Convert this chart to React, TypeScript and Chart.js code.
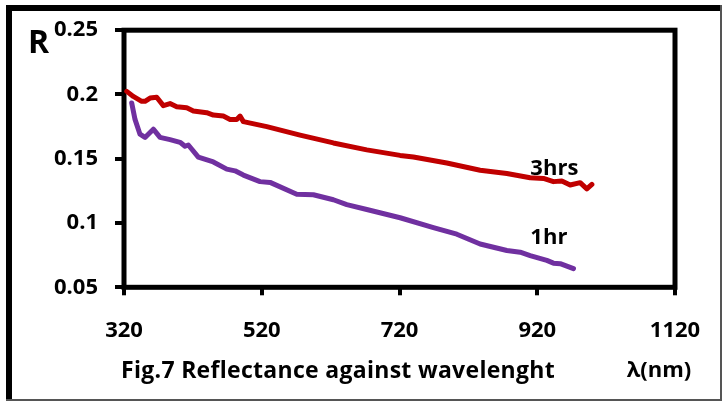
import React, { useEffect, useRef } from "react";
import { Chart, registerables } from "chart.js";

Chart.register(...registerables);

// ---- data ----
const hrs3Wavelength = [324, 333.5, 345.7, 350.5, 357.8, 367.5, 377.1, 386.8, 396.5, 411.1, 420.7, 440.1, 449.7, 464.2, 474, 483.7, 488.5, 493.3, 527.3, 575.6, 624, 672.5, 720.9, 740.2, 788.7, 837.1, 875.9, 909.7, 929, 943.5, 955.7, 967.8, 982.3, 992, 999.3];
const hrs3Reflectance = [0.2024, 0.1985, 0.1947, 0.1947, 0.1972, 0.1978, 0.1913, 0.1929, 0.1904, 0.1896, 0.1871, 0.1858, 0.184, 0.1832, 0.1806, 0.1806, 0.1832, 0.1789, 0.175, 0.1684, 0.1623, 0.1569, 0.1526, 0.1513, 0.1467, 0.1411, 0.1385, 0.1352, 0.1347, 0.1322, 0.1327, 0.1296, 0.1314, 0.1266, 0.1301];

const hr1Wavelength = [331.2, 336, 343.2, 350.5, 362.6, 372.3, 386.8, 401.4, 408.6, 413.4, 427.9, 449.7, 469.2, 481.2, 493.3, 517.5, 532.1, 570.8, 595, 624, 643.5, 672.5, 720.9, 769.2, 803.2, 837.1, 875.9, 895.2, 909.7, 933.9, 943.5, 953.3, 972.6];
const hr1Reflectance = [0.1934, 0.1806, 0.1691, 0.1666, 0.173, 0.1666, 0.1649, 0.1628, 0.1597, 0.1607, 0.1513, 0.1475, 0.1419, 0.1406, 0.1373, 0.1322, 0.1316, 0.1224, 0.122, 0.1181, 0.1143, 0.1105, 0.1041, 0.0964, 0.0913, 0.0837, 0.0786, 0.0773, 0.0747, 0.0709, 0.0688, 0.0684, 0.0645];

const xTickValues = [320, 520, 720, 920, 1120];
const yTickValues = [0.05, 0.1, 0.15, 0.2, 0.25];

const seriesNames = ["3hrs", "1hr"];
const seriesColors = ["#C00000", "#7030A0"];
// label anchors (data coordinates): left x, baseline y
const labelAnchorX = [910, 910];
const labelAnchorY = [0.1375, 0.0839];

const yTitle = "R";
const xTitle = "λ(nm)";
const caption = "Fig.7 Reflectance against wavelenght";

const FONT = "'Open Sans', Lato, sans-serif";

const decorPlugin = {
  id: "decor",
  beforeDatasetsDraw(chart: any) {
    const { ctx, chartArea } = chart;
    ctx.save();
    ctx.strokeStyle = "#000";
    ctx.lineWidth = 5;
    ctx.strokeRect(chartArea.left, chartArea.top, chartArea.right - chartArea.left, chartArea.bottom - chartArea.top);
    ctx.restore();
  },
  afterDraw(chart: any) {
    const { ctx } = chart;
    const xs = chart.scales.x;
    const ys = chart.scales.y;
    ctx.save();
    // outer frame
    ctx.fillStyle = "#000";
    ctx.fillRect(6, 5, 715, 6); // top
    ctx.fillRect(6, 5, 6, 396); // left
    ctx.fillStyle = "#555";
    ctx.fillRect(720, 5, 2, 396); // right
    ctx.fillRect(6, 399, 716, 2); // bottom

    ctx.fillStyle = "#000";
    ctx.textBaseline = "alphabetic";
    ctx.textAlign = "left";
    ctx.font = `bold 32px ${FONT}`;
    ctx.fillText(yTitle, 28, 53);

    ctx.font = `bold 23px ${FONT}`;
    ctx.textAlign = "center";
    (ctx as any).letterSpacing = "0.3px";
    ctx.fillText(caption, 338, 378);
    (ctx as any).letterSpacing = "0px";
    ctx.font = `bold 22px ${FONT}`;
    ctx.fillText(xTitle, 659, 377);

    ctx.textAlign = "left";
    for (let i = 0; i < seriesNames.length; i++) {
      ctx.fillText(seriesNames[i], xs.getPixelForValue(labelAnchorX[i]), ys.getPixelForValue(labelAnchorY[i]));
    }
    ctx.restore();
  },
};

export default function App() {
  const ref = useRef<HTMLCanvasElement | null>(null);
  useEffect(() => {
    if (!ref.current) return;
    const chart = new Chart(ref.current, {
      type: "line",
      data: {
        datasets: [
          {
            label: seriesNames[0],
            data: hrs3Wavelength.map((x, i) => ({ x, y: hrs3Reflectance[i] })),
            borderColor: seriesColors[0],
            backgroundColor: seriesColors[0],
            borderWidth: 5,
            pointRadius: 0,
            tension: 0,
            borderJoinStyle: "round",
            borderCapStyle: "round",
          },
          {
            label: seriesNames[1],
            data: hr1Wavelength.map((x, i) => ({ x, y: hr1Reflectance[i] })),
            borderColor: seriesColors[1],
            backgroundColor: seriesColors[1],
            borderWidth: 5,
            pointRadius: 0,
            tension: 0,
            borderJoinStyle: "round",
            borderCapStyle: "round",
          },
        ],
      },
      options: {
        animation: false,
        responsive: false,
        events: [],
        layout: { padding: { top: 26.4, right: 50, left: 0, bottom: 0 } },
        plugins: { legend: { display: false }, tooltip: { enabled: false } },
        scales: {
          x: {
            type: "linear",
            min: 320,
            max: 1120,
            afterBuildTicks: (scale: any) => {
              scale.ticks = xTickValues.map((v) => ({ value: v }));
            },
            afterFit: (scale: any) => {
              scale.height = 405 - 287.3;
            },
            border: { display: false },
            grid: { drawOnChartArea: false, drawTicks: true, tickLength: 8, lineWidth: 4, color: "#000" },
            ticks: {
              padding: 22,
              color: "#000",
              maxRotation: 0,
              font: { family: FONT, size: 22, weight: "bold" },
              callback: (v: any) => String(v),
            },
          },
          y: {
            type: "linear",
            min: 0.05,
            max: 0.25,
            afterBuildTicks: (scale: any) => {
              scale.ticks = yTickValues.map((v) => ({ value: v }));
            },
            afterFit: (scale: any) => {
              scale.width = 124;
            },
            border: { display: false },
            grid: { drawOnChartArea: false, drawTicks: true, tickLength: 9, lineWidth: 4, color: "#000" },
            ticks: {
              padding: 17,
              color: "#000",
              font: { family: FONT, size: 22, weight: "bold" },
              callback: (v: any) => String(Number(Number(v).toFixed(2))),
            },
          },
        },
      },
      plugins: [decorPlugin],
    } as any);
    return () => chart.destroy();
  }, []);
  return (
    <div style={{ position: "absolute", left: 0, top: 0, width: 725, height: 405, background: "#fff" }}>
      <canvas ref={ref} width={725} height={405} style={{ display: "block" }} />
    </div>
  );
}
